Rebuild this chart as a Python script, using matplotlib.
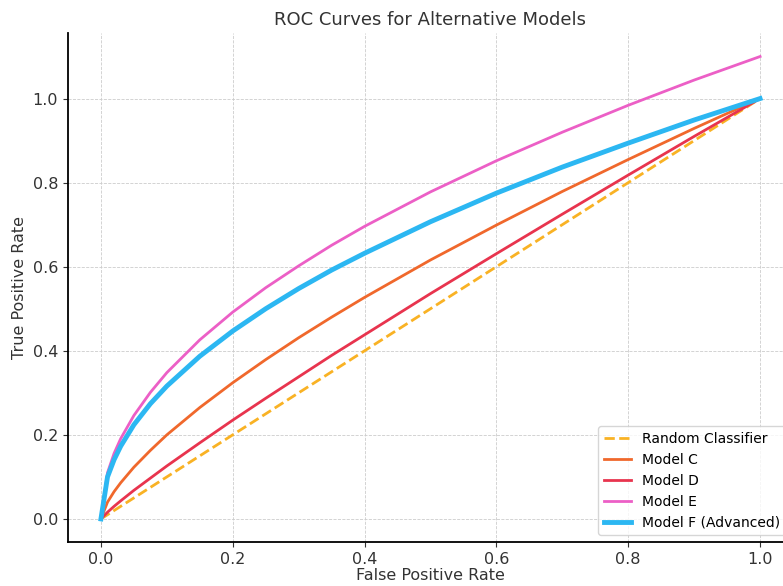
import numpy as np
import matplotlib.pyplot as plt

# ROC curve points
fpr = [0.0, 0.01, 0.02, 0.03, 0.05, 0.075, 0.1, 0.15, 0.2, 0.25, 0.3, 0.35,
       0.4, 0.5, 0.6, 0.7, 0.8, 0.9, 1.0]
tpr_random = [0.0, 0.01, 0.02, 0.03, 0.05, 0.075, 0.1, 0.15, 0.2, 0.25, 0.3, 0.35,
              0.4, 0.5, 0.6, 0.7, 0.8, 0.9, 1.0]
tpr_c = [0.0, 0.040, 0.065, 0.086, 0.123, 0.163, 0.200, 0.265, 0.324, 0.379, 0.431,
         0.480, 0.527, 0.616, 0.699, 0.779, 0.855, 0.929, 1.0]
tpr_d = [0.0, 0.016, 0.030, 0.043, 0.068, 0.097, 0.126, 0.181, 0.235, 0.287, 0.338,
         0.389, 0.438, 0.536, 0.631, 0.725, 0.818, 0.910, 1.0]
tpr_e = [0.0, 0.110, 0.156, 0.191, 0.246, 0.301, 0.348, 0.426, 0.492, 0.550, 0.602,
         0.651, 0.696, 0.778, 0.852, 0.920, 0.984, 1.044, 1.100]
tpr_f = [0.0, 0.100, 0.141, 0.173, 0.224, 0.274, 0.316, 0.387, 0.447, 0.500, 0.548,
         0.592, 0.632, 0.707, 0.775, 0.837, 0.894, 0.949, 1.0]

fig = plt.figure(figsize=(7.83, 5.86), dpi=100)
# axes runs a little past the right edge, like the cropped original
ax = fig.add_axes([0.0868, 0.0750, 0.926, 0.868])

ax.plot(fpr, tpr_random, '--', color='#f9b224', lw=2, label='Random Classifier')
ax.plot(fpr, tpr_c, color='#f0682c', lw=2, label='Model C')
ax.plot(fpr, tpr_d, color='#e8344e', lw=2, label='Model D')
ax.plot(fpr, tpr_e, color='#ec5fc6', lw=2, label='Model E')
ax.plot(fpr, tpr_f, color='#2cb7f2', lw=3.5, label='Model F (Advanced)')

ax.set_xlim(-0.05, 1.05)
ax.set_ylim(-0.055, 1.155)
ax.set_xticks([0.0, 0.2, 0.4, 0.6, 0.8, 1.0])
ax.set_yticks([0.0, 0.2, 0.4, 0.6, 0.8, 1.0])
ax.tick_params(labelsize=11.5, colors='#333333')

ax.grid(True, linestyle='--', linewidth=0.6, color='#cccccc')
ax.spines['top'].set_visible(False)
ax.spines['right'].set_visible(False)
ax.spines['left'].set_linewidth(1.3)
ax.spines['bottom'].set_linewidth(1.3)

ax.set_title('ROC Curves for Alternative Models', fontsize=13, color='#333333')
ax.set_xlabel('False Positive Rate', fontsize=11.5, color='#333333', labelpad=1)
ax.set_ylabel('True Positive Rate', fontsize=11.5, color='#333333')
ax.legend(loc='lower right', fontsize=10)

fig.savefig('out.png', dpi=100)
